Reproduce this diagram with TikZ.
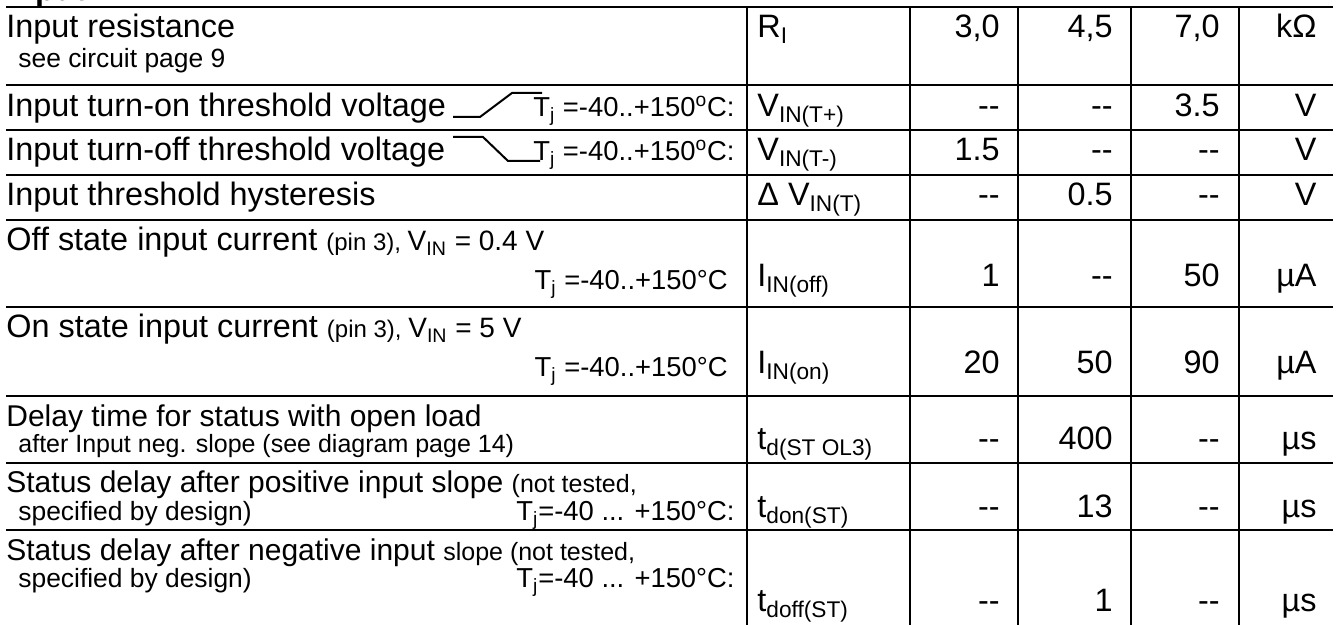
\documentclass[tikz,border=0pt]{standalone}
\usepackage{fontspec}
\setmainfont{Liberation Sans}
\begin{document}
\begin{tikzpicture}[x=0.5pt,y=-0.5pt,
    every node/.style={inner sep=0pt},
    big/.style={anchor=base west,font=\fontsize{16.2}{19}\selectfont},
    low/.style={anchor=base west,font=\fontsize{15}{18}\selectfont},
    mid/.style={anchor=base east,font=\fontsize{13.7}{16}\selectfont},
    sml/.style={anchor=base west,font=\fontsize{13.2}{16}\selectfont},
    num/.style={anchor=base east,font=\fontsize{16.2}{19}\selectfont},
    tabline/.style={line width=1.3pt},
    slopeline/.style={line width=1pt}]

  \useasboundingbox (0,0) rectangle (1341,625);
  \clip (0,0) rectangle (1341,625);

  % ------ grid of the table ------
  \foreach \y in {7,85,130,175,220,307,396,463,530}
    \draw[tabline] (6,\y) -- (1333,\y);
  \foreach \x in {747,910,1018,1131,1239}
    \draw[tabline] (\x,7) -- (\x,625);

  \node[big,font=\fontsize{16.2}{19}\selectfont\bfseries] (head) at (6,1) {Input};

  % ------ parameter column ------
  \node[big] (res) at (6,38) {Input resistance};
  \node[sml] (resnote) at (18,68) {see circuit page 9};

  \node[big] (ton) at (6,117) {Input turn-on threshold voltage};
  \draw[slopeline] (453,117) -- (480,117) -- (512,93) -- (542,93); % rising edge
  \node[mid] (tjon) at (735,117) {T\textsubscript{j} =-40..+150\textsuperscript{o}C:};

  \node[big] (toff) at (6,161) {Input turn-off threshold voltage};
  \draw[slopeline] (453,137) -- (483,137) -- (508,161) -- (540,161); % falling edge
  \node[mid] (tjoff) at (735,161) {T\textsubscript{j} =-40..+150\textsuperscript{o}C:};

  \node[big] (hys) at (6,206) {Input threshold hysteresis};

  \node[big] (ioff) at (6,251) {Off state input current {\fontsize{12}{15}\selectfont (pin 3), }{\fontsize{14}{17}\selectfont V\textsubscript{IN} = 0.4 V}};
  \node[mid] (tjioff) at (728,290) {T\textsubscript{j} =-40..+150°C};

  \node[big] (ion) at (6,338) {On state input current {\fontsize{12}{15}\selectfont (pin 3), }{\fontsize{14}{17}\selectfont V\textsubscript{IN} = 5 V}};
  \node[mid] (tjion) at (728,377) {T\textsubscript{j} =-40..+150°C};

  \node[low] (dly) at (6,427) {Delay time for status with open load};
  \node[sml,font=\fontsize{12.5}{15}\selectfont] (dlynote) at (18,453) {after Input neg. slope (see diagram page 14)};

  \node[low] (pos) at (6,493) {Status delay after positive input slope {\fontsize{12.5}{15}\selectfont (not tested,}};
  \node[sml] (posnote) at (18,521) {specified by design)};
  \node[mid] (tjpos) at (735,521) {T\textsubscript{j}=-40 ... +150°C:};

  \node[low] (neg) at (6,561) {Status delay after negative input {\fontsize{12.5}{15}\selectfont slope (not tested,}};
  \node[sml] (negnote) at (18,588) {specified by design)};
  \node[mid] (tjneg) at (735,588) {T\textsubscript{j}=-40 ... +150°C:};

  % ------ symbol, min, typ, max, unit ------
  \foreach \n/\y/\s/\a/\b/\c/\u in {
      1/38/{R\textsubscript{I}}/{3,0}/{4,5}/{7,0}/{kΩ},
      2/117/{V\textsubscript{IN(T+)}}/{-{}-}/{-{}-}/{3.5}/{V},
      3/161/{V\textsubscript{IN(T-)}}/{1.5}/{-{}-}/{-{}-}/{V},
      4/206/{Δ V\textsubscript{IN(T)}}/{-{}-}/{0.5}/{-{}-}/{V},
      5/287/{I\textsubscript{IN(off)}}/{1}/{-{}-}/{50}/{µA},
      6/374/{I\textsubscript{IN(on)}}/{20}/{50}/{90}/{µA},
      7/450/{t\textsubscript{d(ST OL3)}}/{-{}-}/{400}/{-{}-}/{µs},
      8/518/{t\textsubscript{don(ST)}}/{-{}-}/{13}/{-{}-}/{µs},
      9/612/{t\textsubscript{doff(ST)}}/{-{}-}/{1}/{-{}-}/{µs}}
  {
    \node[big] (sym\n) at (757,\y) {\s};
    \node[num] (min\n) at (1000,\y) {\a};
    \node[num] (typ\n) at (1113,\y) {\b};
    \node[num] (max\n) at (1220,\y) {\c};
    \node[num] (unit\n) at (1317,\y) {\u};
  }
\end{tikzpicture}
\end{document}
